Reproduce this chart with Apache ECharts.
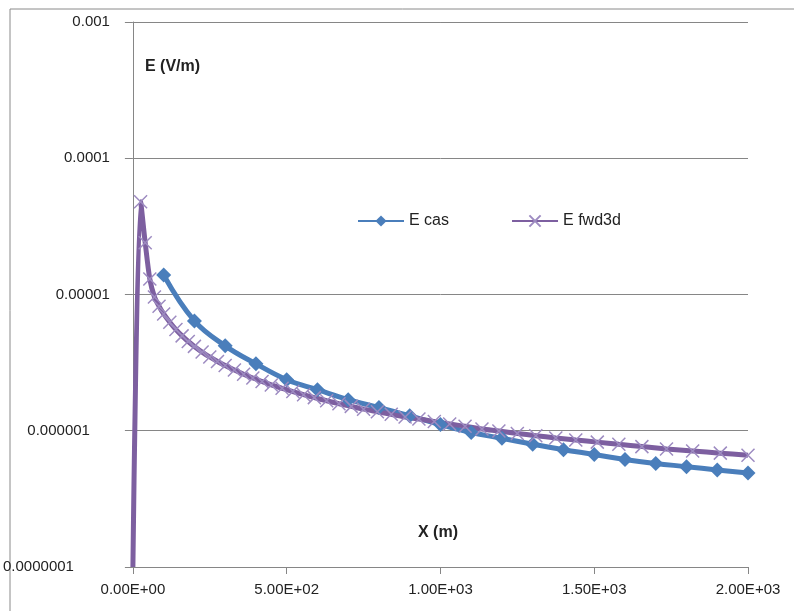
<!DOCTYPE html>
<html lang="en">
<head>
    <meta charset="UTF-8">
    <title>E field</title>
    <script type="text/javascript" src="https://cdn.jsdelivr.net/npm/echarts@6/dist/echarts.min.js"></script>
    <style>
        body { margin: 0; background: #fff; }
    </style>
</head>
<body>
<div id="chartmain" style="width:794px;height:611px"></div>
<script>
    // E cas : one diamond every 100 m
    var casX = [100, 200, 300, 400, 500, 600, 700, 800, 900, 1000,
                1100, 1200, 1300, 1400, 1500, 1600, 1700, 1800, 1900, 2000];
    var casE = [1.39e-5, 6.4e-6, 4.2e-6, 3.1e-6, 2.37e-6, 2.0e-6, 1.69e-6, 1.48e-6, 1.29e-6, 1.11e-6,
                9.7e-7, 8.8e-7, 7.95e-7, 7.25e-7, 6.7e-7, 6.15e-7, 5.75e-7, 5.45e-7, 5.15e-7, 4.9e-7];

    // E fwd3d : denser samples, spacing grows with distance
    var fwdX = [0, 25, 40, 55, 70, 85, 100, 120, 140, 160, 180, 200, 225, 250, 275, 300,
                330, 360, 390, 420, 450, 485, 520, 555, 590, 630, 670, 710, 750, 795,
                840, 885, 930, 980, 1030, 1080, 1135, 1190, 1250, 1310, 1375, 1440,
                1510, 1580, 1655, 1735, 1820, 1910, 2000];
    var fwdE = [1e-7, 4.8e-5, 2.4e-5, 1.3e-5, 9.6e-6, 8.2e-6, 7.2e-6, 6.26e-6, 5.53e-6, 4.97e-6,
                4.52e-6, 4.16e-6, 3.78e-6, 3.48e-6, 3.22e-6, 3.01e-6, 2.79e-6, 2.6e-6, 2.44e-6,
                2.3e-6, 2.17e-6, 2.05e-6, 1.94e-6, 1.84e-6, 1.75e-6, 1.66e-6, 1.58e-6, 1.51e-6,
                1.44e-6, 1.38e-6, 1.32e-6, 1.26e-6, 1.22e-6, 1.17e-6, 1.12e-6, 1.08e-6, 1.03e-6,
                9.95e-7, 9.55e-7, 9.2e-7, 8.85e-7, 8.55e-7, 8.25e-7, 7.95e-7, 7.65e-7, 7.35e-7,
                7.1e-7, 6.85e-7, 6.6e-7];

    var xTickLabels = ['0.00E+00', '5.00E+02', '1.00E+03', '1.50E+03', '2.00E+03'];
    var yTickLabels = ['0.0000001', '0.000001', '0.00001', '0.0001', '0.001'];

    var font = "'Liberation Sans', sans-serif";
    var blue = '#4a7ebb';
    var purple = '#7d5fa0';
    var crossColor = '#9d8bc1';

    var casData = casX.map(function (x, i) { return [x, casE[i]]; });
    var fwdData = fwdX.map(function (x, i) {
        if (i === 0) return { value: [x, fwdE[i]], symbol: 'none' };
        return [x, fwdE[i]];
    });

    var option = {
        animation: false,
        backgroundColor: '#fff',
        textStyle: { fontFamily: font },
        grid: { left: 131, right: 46, top: 22, bottom: 44 },
        legend: {
            left: 352,
            top: 208,
            itemWidth: 46,
            itemHeight: 14,
            itemGap: 62,
            textStyle: { fontSize: 16, color: '#222', fontFamily: font },
            data: ['E cas', 'E fwd3d']
        },
        graphic: [
            { type: 'rect', shape: { x: 10, y: 9, width: 820, height: 640 },
              style: { fill: 'none', stroke: '#8a8a8a', lineWidth: 1 } },
            { type: 'text', left: 145, top: 59,
              style: { text: 'E (V/m)', font: 'bold 16px ' + font, fill: '#222' } },
            { type: 'text', left: 418, top: 525,
              style: { text: 'X (m)', font: 'bold 16px ' + font, fill: '#222' } }
        ],
        xAxis: {
            type: 'value',
            min: 0,
            max: 2000,
            interval: 500,
            axisLine: { lineStyle: { color: '#868686', width: 1 } },
            axisTick: { show: true, length: 7, lineStyle: { color: '#868686' } },
            splitLine: { show: false },
            axisLabel: {
                margin: 15,
                fontSize: 15,
                color: '#222',
                formatter: function (v) { return xTickLabels[Math.round(v / 500)]; }
            }
        },
        yAxis: {
            type: 'log',
            logBase: 10,
            min: 1e-7,
            max: 1e-3,
            axisLine: { show: true, lineStyle: { color: '#868686', width: 1 } },
            axisTick: { show: true, length: 8, lineStyle: { color: '#868686' } },
            splitLine: { show: true, lineStyle: { color: '#868686', width: 1 } },
            axisLabel: {
                margin: 23,
                fontSize: 15,
                color: '#222',
                formatter: function (v) {
                    var k = Math.round(Math.log(v) / Math.LN10) + 7;
                    if (k === 1) return '{m|' + yTickLabels[k] + '}';
                    if (k === 0) return '{s|' + yTickLabels[k] + '}';
                    return yTickLabels[k];
                },
                rich: {
                    m: { fontSize: 15, color: '#222', fontFamily: font, padding: [0, 20, 0, 0] },
                    s: { fontSize: 15, color: '#222', fontFamily: font, padding: [0, 36, 0, 0] }
                }
            }
        },
        series: [
            {
                name: 'E cas',
                type: 'line',
                smooth: 0.4,
                data: casData,
                symbol: 'diamond',
                symbolSize: 15,
                lineStyle: { color: blue, width: 5 },
                itemStyle: { color: blue }
            },
            {
                name: 'E fwd3d',
                type: 'line',
                smooth: 0.3,
                data: fwdData,
                symbol: 'path://M0,0L10,10M10,0L0,10',
                symbolSize: 13,
                lineStyle: { color: purple, width: 5 },
                itemStyle: { color: purple, borderColor: crossColor, borderWidth: 1.5 }
            }
        ]
    };

    var myChart = echarts.init(document.getElementById('chartmain'));
    myChart.setOption(option);
</script>
</body>
</html>
